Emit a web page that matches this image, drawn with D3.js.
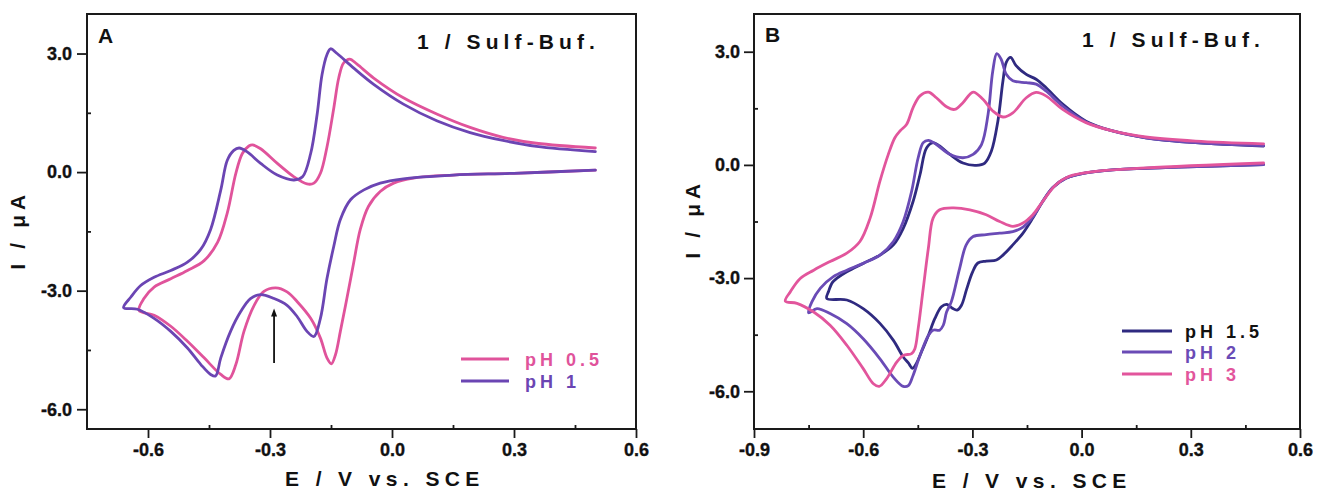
<!DOCTYPE html>
<html>
<head>
<meta charset="utf-8">
<script src="https://cdn.jsdelivr.net/npm/d3@7"></script>
<style>
  html, body { margin: 0; padding: 0; background: #ffffff; }
  svg { display: block; font-family: "Liberation Sans", Arial, sans-serif; font-weight: bold; }
</style>
</head>
<body>
<svg id="chart" width="1319" height="493"></svg>
<script>
// Cyclic voltammograms of 1 in sulfate buffer, E (V vs. SCE) vs. I (µA).
// Each trace is listed in scan order: cathodic sweep from +0.5 V, then the return sweep.

// Panel A
const seriesA = ["pH 0.5", "pH 1"];
const colorsA = ["#e0539b", "#6b45b3"];
const cvA_pH05 = [
  [0.50, 0.05], [0.30, -0.03], [0.15, -0.075], [0.053, -0.15], [0.004, -0.28], [-0.029, -0.49],
  [-0.058, -0.87], [-0.078, -1.45], [-0.094, -2.28], [-0.111, -3.2], [-0.127, -4.03], [-0.139, -4.62],
  [-0.149, -4.85], [-0.16, -4.7], [-0.176, -4.2], [-0.2, -3.7], [-0.233, -3.28], [-0.258, -3.03],
  [-0.286, -2.93], [-0.315, -3.02], [-0.339, -3.37], [-0.364, -4.03], [-0.384, -4.87], [-0.401, -5.23],
  [-0.421, -5.12], [-0.462, -4.7], [-0.503, -4.28], [-0.544, -3.9], [-0.585, -3.62], [-0.622, -3.5],
  [-0.61, -3.2], [-0.585, -2.91], [-0.544, -2.7], [-0.503, -2.49], [-0.462, -2.24], [-0.429, -1.78],
  [-0.405, -1.03], [-0.384, -0.03], [-0.368, 0.47], [-0.352, 0.66], [-0.343, 0.69], [-0.323, 0.59],
  [-0.282, 0.22], [-0.241, -0.12], [-0.209, -0.3], [-0.192, -0.28], [-0.176, -0.03], [-0.16, 0.63],
  [-0.143, 1.63], [-0.131, 2.38], [-0.119, 2.76], [-0.104, 2.86], [-0.086, 2.73], [-0.045, 2.38],
  [0.028, 1.88], [0.11, 1.47], [0.192, 1.13], [0.273, 0.88], [0.355, 0.73], [0.50, 0.61]
];
const cvA_pH1 = [
  [0.50, 0.05], [0.30, -0.03], [0.151, -0.075], [0.028, -0.17], [-0.029, -0.28], [-0.069, -0.45],
  [-0.102, -0.7], [-0.127, -1.2], [-0.143, -1.87], [-0.16, -2.7], [-0.176, -3.7], [-0.192, -4.16],
  [-0.209, -4.03], [-0.233, -3.66], [-0.258, -3.37], [-0.29, -3.2], [-0.323, -3.1], [-0.348, -3.2],
  [-0.372, -3.53], [-0.397, -4.03], [-0.421, -4.7], [-0.434, -5.16], [-0.446, -5.12], [-0.47, -4.87],
  [-0.503, -4.45], [-0.544, -4.03], [-0.585, -3.7], [-0.626, -3.47], [-0.66, -3.43],
  [-0.642, -3.16], [-0.618, -2.87], [-0.585, -2.66], [-0.544, -2.49], [-0.503, -2.28], [-0.47, -1.95],
  [-0.446, -1.45], [-0.421, -0.45], [-0.405, 0.3], [-0.389, 0.55], [-0.376, 0.61], [-0.356, 0.51],
  [-0.323, 0.22], [-0.282, -0.075], [-0.241, -0.2], [-0.22, -0.12], [-0.2, 0.47], [-0.184, 1.47],
  [-0.172, 2.47], [-0.16, 2.97], [-0.151, 3.12], [-0.135, 3.0], [-0.094, 2.63], [-0.045, 2.22],
  [0.028, 1.72], [0.11, 1.3], [0.192, 1.0], [0.273, 0.8], [0.355, 0.65], [0.50, 0.52]
];
// Arrow marking the shoulder on the pH 1 reduction wave: [E, I tail, I head]
const arrowA = [-0.29, -4.83, -3.45];

// Panel B
const seriesB = ["pH 1.5", "pH 2", "pH 3"];
const colorsB = ["#2f2a80", "#6a4bb6", "#e2559c"];
const labelColorsB = ["#111111", "#6a4bb6", "#e2559c"];
const cvB_pH15 = [
  [0.50, 0.01], [0.267, -0.06], [0.085, -0.13], [0.012, -0.21], [-0.043, -0.35], [-0.079, -0.6],
  [-0.107, -0.97], [-0.134, -1.41], [-0.161, -1.81], [-0.189, -2.12], [-0.216, -2.39], [-0.234, -2.52],
  [-0.262, -2.55], [-0.285, -2.6], [-0.3, -2.85], [-0.316, -3.3], [-0.33, -3.72], [-0.342, -3.85],
  [-0.355, -3.8], [-0.37, -3.7], [-0.385, -3.76], [-0.403, -4.07], [-0.421, -4.52], [-0.44, -4.96],
  [-0.456, -5.3], [-0.465, -5.39], [-0.476, -5.25], [-0.49, -5.09], [-0.517, -4.65], [-0.554, -4.2],
  [-0.6, -3.81], [-0.645, -3.58], [-0.7, -3.54],
  [-0.695, -3.35], [-0.685, -3.12], [-0.672, -3.0], [-0.645, -2.83], [-0.6, -2.61], [-0.554, -2.39],
  [-0.517, -2.12], [-0.49, -1.68], [-0.463, -0.97], [-0.444, -0.26], [-0.426, 0.45], [-0.408, 0.59],
  [-0.39, 0.5], [-0.362, 0.28], [-0.326, 0.05], [-0.289, -0.01], [-0.266, 0.05], [-0.248, 0.36],
  [-0.23, 1.16], [-0.216, 2.23], [-0.207, 2.72], [-0.195, 2.85], [-0.18, 2.63], [-0.152, 2.4],
  [-0.125, 2.27], [-0.098, 2.05], [-0.052, 1.61], [0.012, 1.16], [0.085, 0.9], [0.176, 0.72],
  [0.313, 0.59], [0.50, 0.50]
];
const cvB_pH2 = [
  [0.50, 0.01], [0.267, -0.06], [0.085, -0.13], [0.012, -0.21], [-0.043, -0.35], [-0.079, -0.6],
  [-0.107, -0.97], [-0.134, -1.38], [-0.161, -1.65], [-0.189, -1.77], [-0.225, -1.81], [-0.262, -1.85],
  [-0.298, -1.9], [-0.317, -2.12], [-0.335, -2.74], [-0.358, -3.63], [-0.371, -3.9], [-0.38, -4.25],
  [-0.39, -4.38], [-0.408, -4.38], [-0.421, -4.52], [-0.444, -5.05], [-0.463, -5.58], [-0.476, -5.85],
  [-0.49, -5.87], [-0.517, -5.63], [-0.554, -5.14], [-0.6, -4.61], [-0.645, -4.21], [-0.691, -3.94],
  [-0.727, -3.81], [-0.75, -3.92],
  [-0.741, -3.63], [-0.718, -3.27], [-0.682, -2.96], [-0.645, -2.79], [-0.6, -2.61], [-0.554, -2.39],
  [-0.517, -2.03], [-0.49, -1.5], [-0.467, -0.7], [-0.449, 0.19], [-0.435, 0.59], [-0.421, 0.65],
  [-0.399, 0.54], [-0.362, 0.28], [-0.326, 0.19], [-0.298, 0.28], [-0.275, 0.54], [-0.257, 1.34],
  [-0.244, 2.49], [-0.233, 2.95], [-0.221, 2.8], [-0.207, 2.4], [-0.189, 2.23], [-0.152, 2.18],
  [-0.125, 2.14], [-0.098, 1.96], [-0.052, 1.56], [0.012, 1.14], [0.085, 0.9], [0.176, 0.72],
  [0.313, 0.59], [0.50, 0.51]
];
const cvB_pH3 = [
  [0.50, 0.05], [0.176, -0.08], [0.039, -0.17], [-0.034, -0.3], [-0.07, -0.52], [-0.107, -0.97],
  [-0.134, -1.32], [-0.161, -1.54], [-0.189, -1.63], [-0.225, -1.5], [-0.262, -1.32], [-0.307, -1.19],
  [-0.353, -1.14], [-0.39, -1.19], [-0.408, -1.41], [-0.421, -2.21], [-0.435, -3.27], [-0.449, -4.34],
  [-0.458, -4.87], [-0.467, -5.0], [-0.49, -5.05], [-0.508, -5.23], [-0.536, -5.67], [-0.556, -5.87],
  [-0.572, -5.8], [-0.6, -5.4], [-0.645, -4.78], [-0.691, -4.25], [-0.736, -3.9], [-0.782, -3.67],
  [-0.814, -3.61],
  [-0.8, -3.36], [-0.773, -3.01], [-0.736, -2.79], [-0.691, -2.56], [-0.645, -2.34], [-0.609, -2.03],
  [-0.581, -1.41], [-0.554, -0.43], [-0.531, 0.28], [-0.513, 0.72], [-0.499, 0.9], [-0.481, 1.07],
  [-0.463, 1.52], [-0.444, 1.83], [-0.421, 1.93], [-0.399, 1.78], [-0.371, 1.54], [-0.349, 1.47],
  [-0.326, 1.65], [-0.298, 1.93], [-0.271, 1.74], [-0.244, 1.43], [-0.216, 1.27], [-0.189, 1.38],
  [-0.152, 1.78], [-0.125, 1.92], [-0.098, 1.83], [-0.052, 1.47], [0.012, 1.12], [0.085, 0.9],
  [0.176, 0.74], [0.313, 0.63], [0.50, 0.56]
];

// Axis ticks
const xMajorA = [-0.6, -0.3, 0.0, 0.3, 0.6];
const xMinorA = [-0.45, -0.15, 0.15, 0.45];
const yMajorA = [3.0, 0.0, -3.0, -6.0];
const yMinorA = [1.5, -1.5, -4.5];
const xMajorB = [-0.9, -0.6, -0.3, 0.0, 0.3, 0.6];
const xMinorB = [-0.75, -0.45, -0.15, 0.15, 0.45];
const yMajorB = [3.0, 0.0, -3.0, -6.0];
const yMinorB = [1.5, -1.5, -4.5];

const panelTitle = "1 / Sulf-Buf.";
const xTitle = "E / V vs. SCE";
const yTitle = "I / \u03BCA";

const svg = d3.select("#chart");
// one decimal, plain hyphen for negatives
const fmt = v => d3.format(".1f")(v).replace("\u2212", "-");

function drawPanel(cfg) {
  const x = d3.scaleLinear().domain(cfg.xDomain).range([cfg.left, cfg.right]);
  const y = d3.scaleLinear().domain(cfg.yDomain).range([cfg.bottom, cfg.top]);
  const g = svg.append("g");

  // minor ticks point inward
  g.append("g").attr("transform", `translate(0,${cfg.bottom})`)
    .call(d3.axisBottom(x).tickValues(cfg.xMinor).tickSize(-4).tickFormat(""))
    .call(a => a.select(".domain").remove());
  g.append("g").attr("transform", `translate(${cfg.left},0)`)
    .call(d3.axisLeft(y).tickValues(cfg.yMinor).tickSize(-4).tickFormat(""))
    .call(a => a.select(".domain").remove());

  // major ticks point outward with labels
  const xa = g.append("g").attr("transform", `translate(0,${cfg.bottom})`)
    .call(d3.axisBottom(x).tickValues(cfg.xMajor).tickSize(9).tickPadding(5).tickFormat(fmt));
  xa.select(".domain").remove();
  const ya = g.append("g").attr("transform", `translate(${cfg.left},0)`)
    .call(d3.axisLeft(y).tickValues(cfg.yMajor).tickSize(10).tickPadding(cfg.yPad).tickFormat(fmt));
  ya.select(".domain").remove();
  [xa, ya].forEach(a => a
    .attr("font-family", "'Liberation Sans', Arial, sans-serif")
    .attr("font-weight", "bold")
    .attr("font-size", 18));
  g.selectAll(".tick line").attr("stroke", "#1a1a1a").attr("stroke-width", 1.8);
  g.selectAll(".tick text")
    .attr("fill", "#111")
    .attr("stroke", "#111")
    .attr("stroke-width", 0.35);

  // curves
  const clipId = "clip" + cfg.id;
  svg.append("clipPath").attr("id", clipId).append("rect")
    .attr("x", cfg.left).attr("y", cfg.top)
    .attr("width", cfg.right - cfg.left).attr("height", cfg.bottom - cfg.top);
  const line = d3.line().x(d => x(d[0])).y(d => y(d[1])).curve(d3.curveCatmullRom.alpha(0.5));
  const curves = g.append("g").attr("clip-path", `url(#${clipId})`);
  cfg.traces.forEach((t, i) => {
    curves.append("path").datum(t)
      .attr("d", line)
      .attr("fill", "none")
      .attr("stroke", cfg.colors[i])
      .attr("stroke-width", 2.8)
      .attr("stroke-linejoin", "round")
      .attr("stroke-linecap", "round");
  });

  // frame
  g.append("rect")
    .attr("x", cfg.left).attr("y", cfg.top)
    .attr("width", cfg.right - cfg.left).attr("height", cfg.bottom - cfg.top)
    .attr("fill", "none").attr("stroke", "#1a1a1a").attr("stroke-width", 2);

  // panel letter and title
  g.append("text").attr("x", cfg.letterX).attr("y", cfg.letterY)
    .attr("font-size", 21).attr("fill", "#111").text(cfg.letter);
  g.append("text").attr("x", cfg.titleX).attr("y", cfg.titleY)
    .attr("font-size", 21).attr("letter-spacing", 5.1).attr("fill", "#111").text(panelTitle);

  // axis titles
  g.append("text").attr("x", cfg.xTitleX).attr("y", cfg.xTitleY)
    .attr("font-size", 21).attr("letter-spacing", 5.4).attr("fill", "#111").text(xTitle);
  g.append("text")
    .attr("transform", `translate(${cfg.yTitleX},${cfg.yTitleY}) rotate(-90)`)
    .attr("text-anchor", "middle")
    .attr("font-size", 21).attr("letter-spacing", 4.7).attr("fill", "#111").text(yTitle);

  // legend
  cfg.legendRows.forEach((ly, i) => {
    g.append("line")
      .attr("x1", cfg.legendX1).attr("x2", cfg.legendX2).attr("y1", ly).attr("y2", ly)
      .attr("stroke", cfg.colors[i]).attr("stroke-width", 2.8);
    g.append("text").attr("x", cfg.legendTextX).attr("y", ly + 6.5)
      .attr("font-size", 18).attr("letter-spacing", 4).attr("fill", cfg.labelColors[i])
      .text(cfg.names[i]);
  });

  return { x, y, g };
}

const pA = drawPanel({
  id: "A", letter: "A",
  xDomain: [-0.75, 0.6], yDomain: [-6.5, 4],
  left: 87, right: 636, top: 14, bottom: 429, yPad: 5,
  xMajor: xMajorA, xMinor: xMinorA, yMajor: yMajorA, yMinor: yMinorA,
  traces: [cvA_pH05, cvA_pH1], colors: colorsA, labelColors: colorsA, names: seriesA,
  letterX: 98, letterY: 43, titleX: 417, titleY: 49,
  xTitleX: 285, xTitleY: 486, yTitleX: 25, yTitleY: 230,
  legendRows: [359, 381], legendX1: 461, legendX2: 509, legendTextX: 525
});

// arrow on panel A
const ax = pA.x(arrowA[0]);
const ay0 = pA.y(arrowA[1]);
const ay1 = pA.y(arrowA[2]);
pA.g.append("line").attr("x1", ax).attr("x2", ax).attr("y1", ay0).attr("y2", ay1 + 6)
  .attr("stroke", "#111").attr("stroke-width", 1.8);
pA.g.append("path")
  .attr("d", `M${ax},${ay1} L${ax - 3},${ay1 + 8} L${ax + 3},${ay1 + 8} Z`)
  .attr("fill", "#111");

drawPanel({
  id: "B", letter: "B",
  xDomain: [-0.9, 0.6], yDomain: [-7, 4],
  left: 754, right: 1300, top: 14, bottom: 429, yPad: 4,
  xMajor: xMajorB, xMinor: xMinorB, yMajor: yMajorB, yMinor: yMinorB,
  traces: [cvB_pH15, cvB_pH2, cvB_pH3], colors: colorsB, labelColors: labelColorsB, names: seriesB,
  letterX: 765, letterY: 42, titleX: 1082, titleY: 47,
  xTitleX: 932, xTitleY: 488, yTitleX: 700, yTitleY: 219,
  legendRows: [331, 352, 374], legendX1: 1122, legendX2: 1172, legendTextX: 1185
});
</script>
</body>
</html>
